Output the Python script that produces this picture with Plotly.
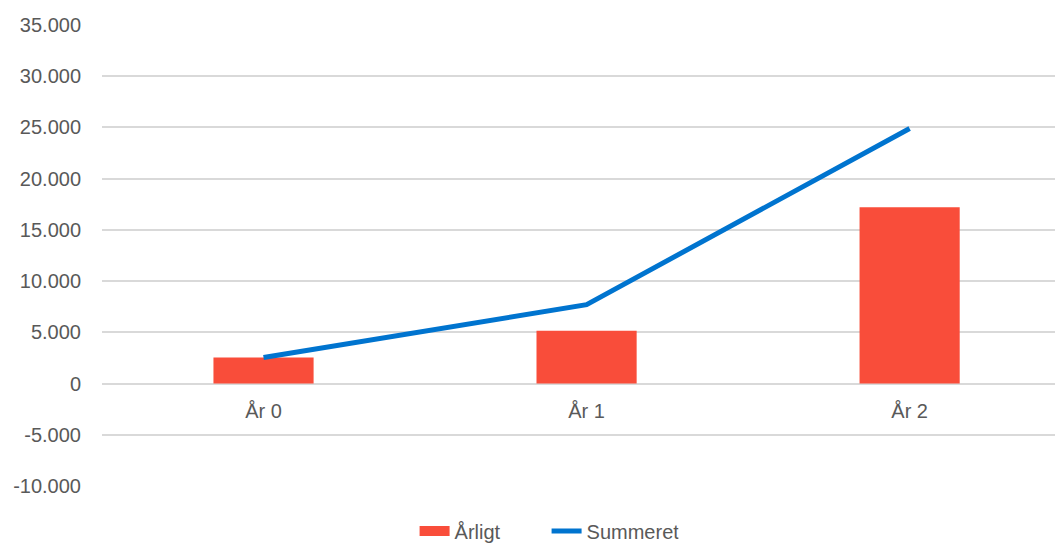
import plotly.graph_objects as go

categories = ["År 0", "År 1", "År 2"]
aarligt = [2550, 5150, 17200]
summeret = [2550, 7700, 24900]
y_ticks = [-10000, -5000, 0, 5000, 10000, 15000, 20000, 25000, 30000, 35000]
y_ticktext = [f"{v:,}".replace(",", ".") for v in y_ticks]

bar_color = "#F94D3A"
line_color = "#0074CF"

fig = go.Figure()
fig.add_trace(go.Bar(
    x=categories, y=aarligt, name="Årligt", showlegend=False,
    marker=dict(color=bar_color, line=dict(width=0)),
    width=0.31,
))
# legend entry styled as a wide rectangle
fig.add_trace(go.Scatter(
    x=[None], y=[None], name="Årligt", mode="lines",
    line=dict(color=bar_color, width=11),
))
fig.add_trace(go.Scatter(
    x=categories, y=summeret, name="Summeret", mode="lines",
    line=dict(color=line_color, width=5),
))

font_color = "#595959"
fig.update_layout(
    width=1055, height=545,
    margin=dict(l=102, r=0, t=25, b=59),
    paper_bgcolor="white", plot_bgcolor="white",
    font=dict(family="Liberation Sans, Arial, sans-serif", size=20, color=font_color),
    showlegend=True,
    legend=dict(orientation="h", xref="paper", x=0.328, xanchor="left",
                yref="container", y=(545 - 531) / 545, yanchor="middle",
                entrywidth=87,
                font=dict(size=20, color=font_color), traceorder="normal"),
    xaxis=dict(
        type="category", range=[-0.5, 2.45],
        anchor="free", position=10000 / 45000, automargin=False,
        showgrid=False, showline=False, ticks="", zeroline=False,
        ticklabelstandoff=13,
        tickfont=dict(size=20, color=font_color),
    ),
    yaxis=dict(
        range=[-10000, 35000], tickvals=y_ticks, ticktext=y_ticktext,
        automargin=False,
        showgrid=True, gridcolor="#D9D9D9", gridwidth=1.5,
        zeroline=True, zerolinecolor="#D9D9D9", zerolinewidth=1.5,
        showline=False, ticks="", ticklabelstandoff=20,
        tickfont=dict(size=20, color=font_color),
    ),
)

fig.write_html(
    "out.html",
    config={"displayModeBar": False},
    post_script="document.body.style.margin='0';document.body.style.overflow='hidden';",
)
